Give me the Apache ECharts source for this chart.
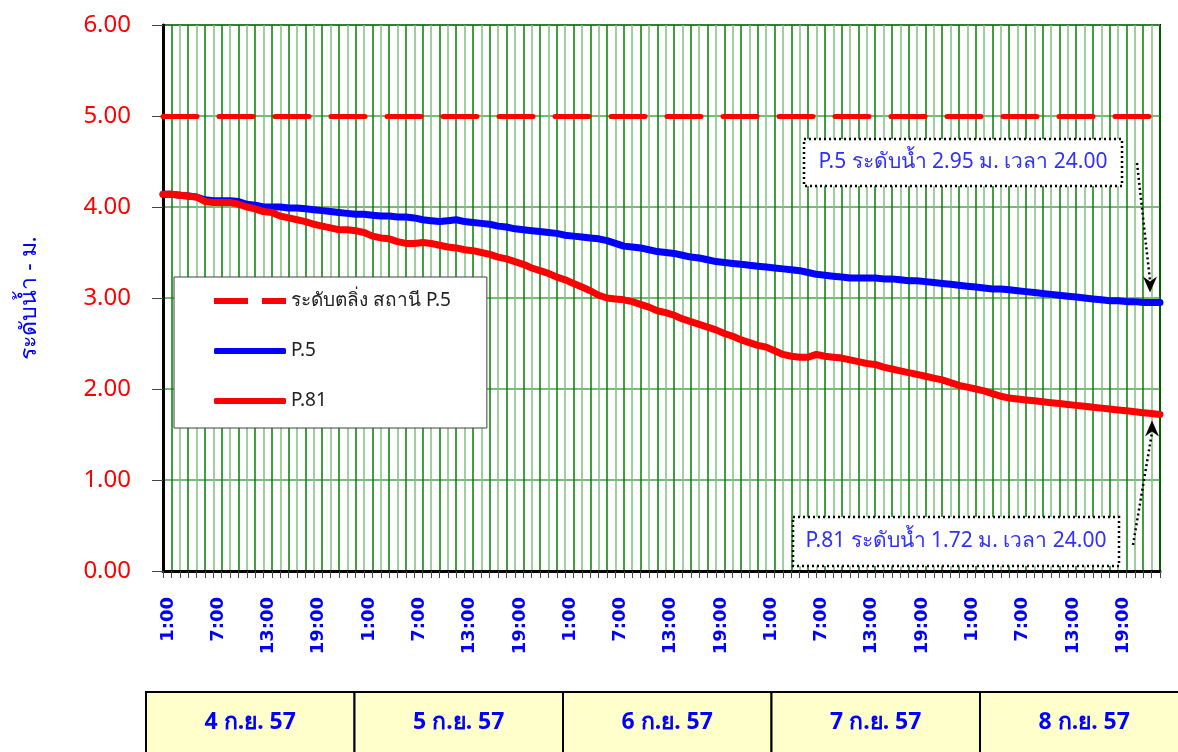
<!DOCTYPE html>
<html>
<head>
<meta charset="utf-8">
<script src="https://cdn.jsdelivr.net/npm/echarts@6/dist/echarts.min.js"></script>
<style>
  html, body { margin: 0; padding: 0; background: #fff; }
  #chart { width: 1178px; height: 752px; }
</style>
</head>
<body>
<div id="chart"></div>
<script>
// hourly labels, 5 days x 24 h
const HOURS = ['1:00','2:00','3:00','4:00','5:00','6:00','7:00','8:00','9:00','10:00','11:00','12:00',
  '13:00','14:00','15:00','16:00','17:00','18:00','19:00','20:00','21:00','22:00','23:00','24:00']
const categories = [].concat(HOURS, HOURS, HOURS, HOURS, HOURS)
const days = ['4 ก.ย. 57', '5 ก.ย. 57', '6 ก.ย. 57', '7 ก.ย. 57', '8 ก.ย. 57']

const BANK_LEVEL = 5.00

// P.5 water level (m)
const p5 = [
  4.14, 4.14, 4.13, 4.12, 4.11, 4.08, 4.07, 4.07, 4.07, 4.06, 4.03, 4.02, 4.00, 4.00, 4.00, 3.99, 3.99, 3.98, 3.97, 3.96, 3.95, 3.94, 3.93, 3.92,
  3.92, 3.91, 3.90, 3.90, 3.89, 3.89, 3.88, 3.86, 3.85, 3.84, 3.85, 3.86, 3.84, 3.83, 3.82, 3.81, 3.79, 3.78, 3.76, 3.75, 3.74, 3.73, 3.72, 3.71,
  3.69, 3.68, 3.67, 3.66, 3.65, 3.63, 3.60, 3.57, 3.56, 3.55, 3.53, 3.51, 3.50, 3.49, 3.47, 3.45, 3.44, 3.42, 3.40, 3.39, 3.38, 3.37, 3.36, 3.35,
  3.34, 3.33, 3.32, 3.31, 3.30, 3.28, 3.26, 3.25, 3.24, 3.23, 3.22, 3.22, 3.22, 3.22, 3.21, 3.21, 3.20, 3.19, 3.19, 3.18, 3.17, 3.16, 3.15, 3.14,
  3.13, 3.12, 3.11, 3.10, 3.10, 3.09, 3.08, 3.07, 3.06, 3.05, 3.04, 3.03, 3.02, 3.01, 3.00, 2.99, 2.98, 2.97, 2.97, 2.96, 2.96, 2.95, 2.95, 2.95
]

// P.81 water level (m)
const p81 = [
  4.14, 4.14, 4.13, 4.12, 4.11, 4.06, 4.05, 4.05, 4.05, 4.03, 4.00, 3.98, 3.95, 3.94, 3.90, 3.88, 3.86, 3.84, 3.81, 3.79, 3.77, 3.75, 3.75, 3.74,
  3.72, 3.68, 3.66, 3.65, 3.62, 3.60, 3.60, 3.61, 3.60, 3.58, 3.56, 3.55, 3.53, 3.52, 3.50, 3.48, 3.45, 3.43, 3.40, 3.37, 3.33, 3.30, 3.27, 3.23,
  3.20, 3.16, 3.12, 3.08, 3.03, 3.00, 2.99, 2.98, 2.96, 2.93, 2.90, 2.86, 2.84, 2.81, 2.77, 2.74, 2.71, 2.68, 2.65, 2.61, 2.58, 2.54, 2.51, 2.48,
  2.46, 2.42, 2.38, 2.36, 2.35, 2.35, 2.38, 2.36, 2.35, 2.34, 2.32, 2.30, 2.28, 2.27, 2.24, 2.22, 2.20, 2.18, 2.16, 2.14, 2.12, 2.10, 2.07, 2.04,
  2.02, 2.00, 1.98, 1.95, 1.92, 1.90, 1.89, 1.88, 1.87, 1.86, 1.85, 1.84, 1.83, 1.82, 1.81, 1.80, 1.79, 1.78, 1.77, 1.76, 1.75, 1.74, 1.73, 1.72
]

const FONT = '"Noto Sans", "DejaVu Sans", sans-serif'
const BLUE = '#0000ff'
const RED = '#ff0000'

const chart = echarts.init(document.getElementById('chart'))

chart.setOption({
  animation: false,
  backgroundColor: '#fff',
  textStyle: { fontFamily: FONT },
  grid: { left: 163, right: 18, top: 25, bottom: 181, show: true, borderColor: '#000', borderWidth: 2 },
  legend: {
    orient: 'vertical',
    left: 174,
    top: 277,
    padding: [14, 36, 17, 40],
    itemGap: 30,
    itemWidth: 72,
    itemHeight: 6,
    backgroundColor: '#fff',
    borderColor: '#404040',
    borderWidth: 1,
    textStyle: { color: '#222', fontSize: 19, lineHeight: 20, fontFamily: FONT },
    data: [
      { name: 'ระดับตลิ่ง สถานี P.5', icon: 'path://M0,0h34v6h-34zM48,0h24v6h-24z', itemStyle: { color: RED } },
      { name: 'P.5', icon: 'roundRect', itemStyle: { color: BLUE } },
      { name: 'P.81', icon: 'roundRect', itemStyle: { color: RED } },
    ],
  },
  xAxis: {
    type: 'category',
    data: categories,
    boundaryGap: false,
    axisLine: { lineStyle: { color: '#000', width: 3 } },
    axisTick: { show: true, interval: 0, length: 7, lineStyle: { color: '#444' } },
    axisLabel: {
      interval: 5,
      rotate: 90,
      color: BLUE,
      fontWeight: 'bold',
      fontSize: 18,
      fontFamily: '"DejaVu Sans"',
      margin: 26,
      verticalAlign: 'top',
      lineHeight: 10,
    },
    splitLine: { show: true, interval: 0, lineStyle: { color: ['#7fbf7f', '#008000'], width: 1.5 } },
  },
  yAxis: {
    type: 'value',
    min: 0,
    max: 6,
    interval: 1,
    name: 'ระดับน้ำ - ม.',
    nameLocation: 'middle',
    nameGap: 122,
    nameTextStyle: { color: BLUE, fontSize: 23, fontFamily: FONT },
    axisLine: { show: true, lineStyle: { color: '#000', width: 3 } },
    axisTick: { show: true, inside: false, length: 11, lineStyle: { color: '#444' } },
    axisLabel: { color: RED, fontSize: 24, margin: 32, formatter: (v) => v.toFixed(2), fontFamily: FONT },
    splitLine: { lineStyle: { color: '#4ca64c', width: 1.5 } },
  },
  series: [
    {
      name: 'ระดับตลิ่ง สถานี P.5',
      type: 'line',
      data: [],
      symbol: 'none',
      color: RED,
      markLine: {
        silent: true,
        symbol: 'none',
        label: { show: false },
        lineStyle: { color: RED, width: 5, type: [34, 22], cap: 'round' },
        data: [{ yAxis: BANK_LEVEL }],
      },
    },
    {
      name: 'P.5',
      type: 'line',
      data: p5,
      symbol: 'none',
      color: BLUE,
      lineStyle: { color: BLUE, width: 7, cap: 'round', join: 'round' },
    },
    {
      name: 'P.81',
      type: 'line',
      data: p81,
      symbol: 'none',
      color: RED,
      lineStyle: { color: RED, width: 7, cap: 'round', join: 'round' },
      z: 3,
    },
  ],
})

// annotations and day table
const last = categories.length - 1
const endP5 = chart.convertToPixel({ seriesIndex: 1 }, [last, p5[last]])
const endP81 = chart.convertToPixel({ seriesIndex: 2 }, [last, p81[last]])

function noteBox(x, y, w, h, text) {
  return {
    type: 'group',
    children: [
      { type: 'rect', shape: { x: x, y: y, width: w, height: h },
        style: { fill: '#fff', stroke: '#000', lineWidth: 2.5, lineDash: [2, 3] } },
      { type: 'text', x: x + w / 2, y: y + h / 2,
        style: { text: text, fill: '#3030ff', font: '21px ' + FONT, align: 'center', verticalAlign: 'middle' } },
    ],
  }
}

function arrow(from, tip, dir) {
  const s = 7
  return {
    type: 'group',
    children: [
      { type: 'polyline', shape: { points: [from, [tip[0], tip[1] - dir * 12]] },
        style: { stroke: '#000', lineWidth: 2.5, lineDash: [2, 3], fill: null } },
      { type: 'polygon', shape: { points: [[tip[0], tip[1]], [tip[0] - s, tip[1] - dir * 16], [tip[0], tip[1] - dir * 11], [tip[0] + s, tip[1] - dir * 16]] },
        style: { fill: '#000' } },
    ],
  }
}

const tip1 = [endP5[0] - 10, endP5[1] - 10]
const tip2 = [endP81[0] - 8, endP81[1] + 6]

const tableX = 146
const cellW = 208.5
const cells = days.map((d, i) => ({
  type: 'group',
  children: [
    { type: 'rect', shape: { x: tableX + i * cellW, y: 692, width: i === days.length - 1 ? 220 : cellW, height: 70 },
      style: { fill: '#ffffcc', stroke: '#000', lineWidth: 2 } },
    { type: 'text', x: tableX + i * cellW + cellW / 2, y: 722,
      style: { text: d, fill: BLUE, font: 'bold 23px ' + FONT, align: 'center', verticalAlign: 'middle' } },
  ],
}))

chart.setOption({
  graphic: [
    noteBox(804, 139, 318, 47, 'P.5 ระดับน้ำ 2.95 ม. เวลา 24.00'),
    noteBox(793, 517, 326, 49, 'P.81 ระดับน้ำ 1.72 ม. เวลา 24.00'),
    arrow([1137, 163], tip1, 1),
    arrow([1133, 545], tip2, -1),
  ].concat(cells),
})
</script>
</body>
</html>
